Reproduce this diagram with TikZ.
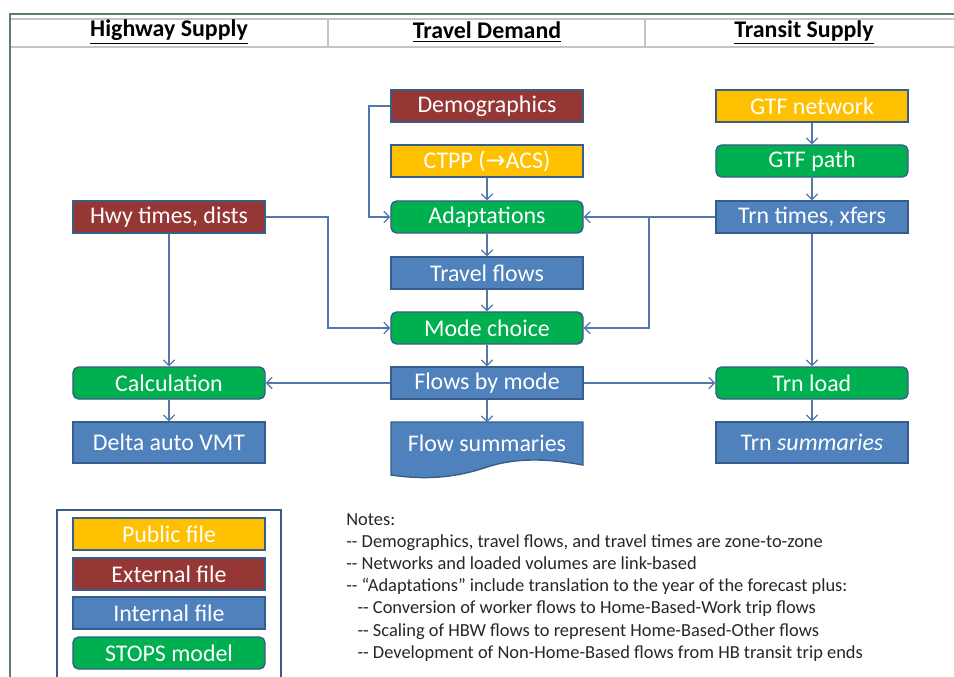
\documentclass[tikz,border=0pt]{standalone}
\usepackage{fontspec}
\setmainfont{Carlito}
\newfontfamily\symfont{DejaVu Sans}
\usetikzlibrary{arrows.meta}

\definecolor{extred}{HTML}{953735}
\definecolor{pubyellow}{HTML}{FFC000}
\definecolor{intblue}{HTML}{4F81BD}
\definecolor{stopsgreen}{HTML}{00B050}
\definecolor{boxline}{HTML}{385D8A}
\definecolor{flowline}{HTML}{5478AC}
\definecolor{framegreen}{HTML}{5B7F63}
\definecolor{headgray}{HTML}{C4C4C4}

\tikzset{
  filebox/.style={draw=boxline, line width=1pt, minimum width=4.8cm,
    minimum height=0.8cm, inner sep=0pt, text=white,
    font=\fontsize{17}{19}\selectfont},
  pubbox/.style={filebox, fill=pubyellow},
  extbox/.style={filebox, fill=extred},
  intbox/.style={filebox, fill=intblue},
  modelbox/.style={filebox, fill=stopsgreen, rounded corners=4pt},
  flow/.style={draw=flowline, line width=0.8pt,
    -{Straight Barb[length=4pt,width=8pt]}},
  heading/.style={font=\fontsize{17}{19}\selectfont\bfseries},
}

\begin{document}
\begin{tikzpicture}[x=0.025cm, y=-0.025cm]
  \useasboundingbox (0,0) rectangle (954,677);

  % frame and column headings
  \draw[framegreen, line width=1.2pt] (10,678) -- (10,14) -- (955,14);
  \draw[headgray, line width=2pt] (11,19) -- (955,19);
  \draw[headgray, line width=1.5pt] (11,47) -- (955,47);
  \draw[headgray, line width=1.5pt] (328,19) -- (328,47);
  \draw[headgray, line width=1.5pt] (645,19) -- (645,47);
  \node[heading] (hhwy) at (169,32) {\underline{Highway Supply}};
  \node[heading] (hdem) at (487,32) {\underline{Travel Demand}};
  \node[heading] (htrn) at (804,32) {\underline{Transit Supply}};

  % Travel demand column
  \node[extbox]   (demog)  at (487,106) {Demographics};
  \node[pubbox]   (ctpp)   at (487,161) {CTPP ({\symfont →}ACS)};
  \node[modelbox] (adapt)  at (487,217) {Adaptations};
  \node[intbox]   (tflows) at (487,273) {Travel flows};
  \node[modelbox] (mode)   at (487,328) {Mode choice};
  \node[intbox]   (fmode)  at (487,383) {Flows by mode};
  % document shape for the summaries
  \filldraw[fill=intblue, draw=boxline, line width=1pt]
    (391,422) -- (583,422) -- (583,465)
    .. controls (545,458) and (515,458) .. (487,467)
    .. controls (455,478) and (425,480) .. (391,475) -- cycle;
  \node[filebox, draw=none, minimum height=1.025cm] (fsum) at (487,443.5) {Flow summaries};

  % Highway supply column
  \node[extbox]   (hwy)  at (169,217) {Hwy times, dists};
  \node[modelbox] (calc) at (169,383) {Calculation};
  \node[intbox, minimum height=1.025cm] (vmt) at (169,442.5) {Delta auto VMT};

  % Transit supply column
  \node[pubbox]   (gtfnet)   at (812,106) {GTF network};
  \node[modelbox] (gtfpath)  at (812,161) {GTF path};
  \node[intbox]   (trntimes) at (812,217) {Trn times, xfers};
  \node[modelbox] (trnload)  at (812,383) {Trn load};
  \node[intbox, minimum height=1.025cm] (trnsum) at (812,442.5) {Trn \textit{summaries}};

  % connectors
  \coordinate (djoin) at (369,106);
  \coordinate (hjoin) at (328,217);
  \coordinate (tjoin) at (649,217);
  \draw[flow] (demog.west) -- (djoin) |- (adapt.west);
  \draw[flow] (ctpp) -- (adapt);
  \draw[flow] (adapt) -- (tflows);
  \draw[flow] (tflows) -- (mode);
  \draw[flow] (mode) -- (fmode);
  \draw[flow] (fmode) -- (fsum.north);
  \draw[flow] (trntimes) -- (adapt);
  \draw[flow] (tjoin) |- (mode.east);
  \draw[flow] (hwy.east) -- (hjoin) |- (mode.west);
  \draw[flow] (hwy) -- (calc);
  \draw[flow] (calc) -- (vmt);
  \draw[flow] (fmode) -- (calc);
  \draw[flow] (fmode) -- (trnload);
  \draw[flow] (gtfnet) -- (gtfpath);
  \draw[flow] (gtfpath) -- (trntimes);
  \draw[flow] (trntimes) -- (trnload);
  \draw[flow] (trnload) -- (trnsum);

  % legend
  \draw[boxline, line width=1pt] (57,680) -- (57,510) -- (281,510) -- (281,680);
  \node[pubbox]   (lpub) at (169,534) {Public file};
  \node[extbox]   (lext) at (169,574) {External file};
  \node[intbox]   (lint) at (169,613) {Internal file};
  \node[modelbox] (lmod) at (169,653) {STOPS model};

  % notes
  \node[anchor=north west, align=left, inner sep=0pt,
        font=\fontsize{13.1}{15.8}\selectfont, text=black!85] (notes) at (346,513) {%
    Notes:\\
    -{}- Demographics, travel flows, and travel times are zone-to-zone\\
    -{}- Networks and loaded volumes are link-based\\
    -{}- “Adaptations” include translation to the year of the forecast plus:\\
    \hspace*{8pt}-{}- Conversion of worker flows to Home-Based-Work trip flows\\
    \hspace*{8pt}-{}- Scaling of HBW flows to represent Home-Based-Other flows\\
    \hspace*{8pt}-{}- Development of Non-Home-Based flows from HB transit trip ends};
\end{tikzpicture}
\end{document}
